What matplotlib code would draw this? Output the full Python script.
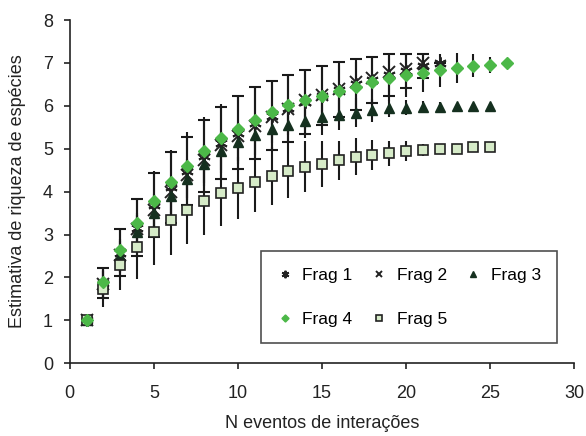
import numpy as np
import matplotlib
matplotlib.use('Agg')
import matplotlib.pyplot as plt

plt.rcParams['font.family'] = ['Liberation Sans', 'DejaVu Sans']

# data
x1 = list(range(1, 23))
frag1 = [1.0, 1.88, 2.58, 3.16, 3.69, 4.10, 4.48, 4.83, 5.14, 5.37, 5.60, 5.77,
         5.94, 6.09, 6.24, 6.38, 6.50, 6.60, 6.72, 6.82, 6.93, 7.0]
err1 = [0, 0.35, 0.55, 0.66, 0.75, 0.82, 0.80, 0.84, 0.84, 0.85, 0.83, 0.80,
        0.78, 0.74, 0.69, 0.64, 0.60, 0.54, 0.48, 0.40, 0.28, 0]

x2 = list(range(1, 22))
frag2 = [1.0, 1.85, 2.52, 3.12, 3.57, 3.99, 4.38, 4.73, 5.08, 5.29, 5.52, 5.74,
         5.92, 6.13, 6.25, 6.39, 6.56, 6.66, 6.79, 6.86, 6.99]

x3 = list(range(1, 26))
frag3 = [1.0, 1.84, 2.50, 3.05, 3.50, 3.90, 4.30, 4.65, 4.95, 5.16, 5.31, 5.45,
         5.55, 5.65, 5.74, 5.78, 5.84, 5.90, 5.94, 5.96, 5.98, 5.98, 6.0, 6.0, 6.0]
err3 = [0, 0.3, 0.4, 0.45, 0.45, 0.45, 0.45, 0.45, 0.45, 0.45, 0.45, 0.45,
        0.43, 0.40, 0.43, 0.35, 0.34, 0.27, 0.20, 0.18, 0.13, 0.12, 0, 0, 0]

x4 = list(range(1, 27))
frag4 = [1.0, 1.90, 2.63, 3.26, 3.78, 4.23, 4.60, 4.94, 5.24, 5.45, 5.68, 5.86,
         6.03, 6.13, 6.24, 6.35, 6.44, 6.56, 6.64, 6.71, 6.77, 6.83, 6.88, 6.94,
         6.95, 7.0]
err4 = [0, 0.35, 0.5, 0.6, 0.7, 0.75, 0.8, 0.8, 0.8, 0.8, 0.75, 0.72, 0.70,
        0.68, 0.65, 0.60, 0.58, 0.55, 0.52, 0.50, 0.45, 0.38, 0.35, 0.26, 0.19, 0]

x5 = list(range(1, 26))
frag5 = [1.0, 1.74, 2.28, 2.71, 3.05, 3.33, 3.57, 3.78, 3.96, 4.09, 4.23, 4.36,
         4.48, 4.58, 4.65, 4.73, 4.81, 4.85, 4.89, 4.94, 4.97, 4.99, 4.99, 5.03, 5.03]
err5 = [0, 0.44, 0.58, 0.74, 0.77, 0.81, 0.78, 0.80, 0.77, 0.72, 0.70, 0.68,
        0.64, 0.59, 0.54, 0.46, 0.43, 0.35, 0.29, 0.23, 0.15, 0.10, 0, 0, 0]

fig = plt.figure(figsize=(5.86, 4.36), dpi=100)
ax = fig.add_axes([0.119, 0.167, 0.861, 0.787])

ebc = '#1a1a1a'
# error bars first, markers on top
ax.errorbar(x5, frag5, yerr=err5, fmt='none', ecolor=ebc, elinewidth=1.5, capsize=0, zorder=2)
ax.errorbar(x4, frag4, yerr=err4, fmt='none', ecolor=ebc, elinewidth=1.5, capsize=0, zorder=2)
ax.errorbar(x3, frag3, yerr=err3, fmt='none', ecolor=ebc, elinewidth=1.5, capsize=0, zorder=2)
ax.errorbar(x1, frag1, yerr=err1, fmt='none', ecolor=ebc, elinewidth=1.5, capsize=4, capthick=1.5, zorder=2)

h1, = ax.plot(x1, frag1, ls='none', marker=(6, 2, 0), ms=9, mew=1.4, color='#222222', zorder=3)
h2, = ax.plot(x2, frag2, ls='none', marker='x', ms=8, mew=1.4, color='#222222', zorder=3)
h3, = ax.plot(x3, frag3, ls='none', marker='^', ms=6.5, color='#15301f', zorder=3)
h4, = ax.plot(x4, frag4, ls='none', marker='D', ms=6, color='#4cb848', mec='#4cb848', zorder=4)
h5, = ax.plot(x5, frag5, ls='none', marker='s', ms=6.5, mfc='#d6ebc8', mec='#222222', mew=1.2, zorder=3)

ax.set_xlim(0, 30)
ax.set_ylim(0, 8)
ax.set_xticks(np.arange(0, 31, 5))
ax.set_yticks(np.arange(0, 9, 1))
ax.spines['top'].set_visible(False)
ax.spines['right'].set_visible(False)
for s in ['left', 'bottom']:
    ax.spines[s].set_linewidth(1.2)
    ax.spines[s].set_color('#222222')
ax.tick_params(direction='out', length=4, width=1.2, labelsize=13, colors='#222222')
ax.tick_params(axis='x', pad=12)
ax.tick_params(axis='y', pad=8)

ax.set_xlabel('N eventos de interações', fontsize=13, color='#222222', labelpad=9)
ax.set_ylabel('Estimativa de riqueza de espécies', fontsize=13, color='#222222', labelpad=12)

handles = [h1, h4, h2, h5, h3]
labels = ['Frag 1', 'Frag 4', 'Frag 2', 'Frag 5', 'Frag 3']
leg = ax.legend(handles, labels, ncol=3, loc='center',
                bbox_to_anchor=(0.673, 0.192), borderaxespad=0,
                fontsize=12.5, fancybox=False, frameon=True,
                edgecolor='#222222', handlelength=0.8, handletextpad=0.63,
                columnspacing=1.1, labelspacing=1.65, borderpad=0.95, markerscale=0.6)
leg.get_frame().set_linewidth(1.2)

fig.savefig('out.png', dpi=100)
